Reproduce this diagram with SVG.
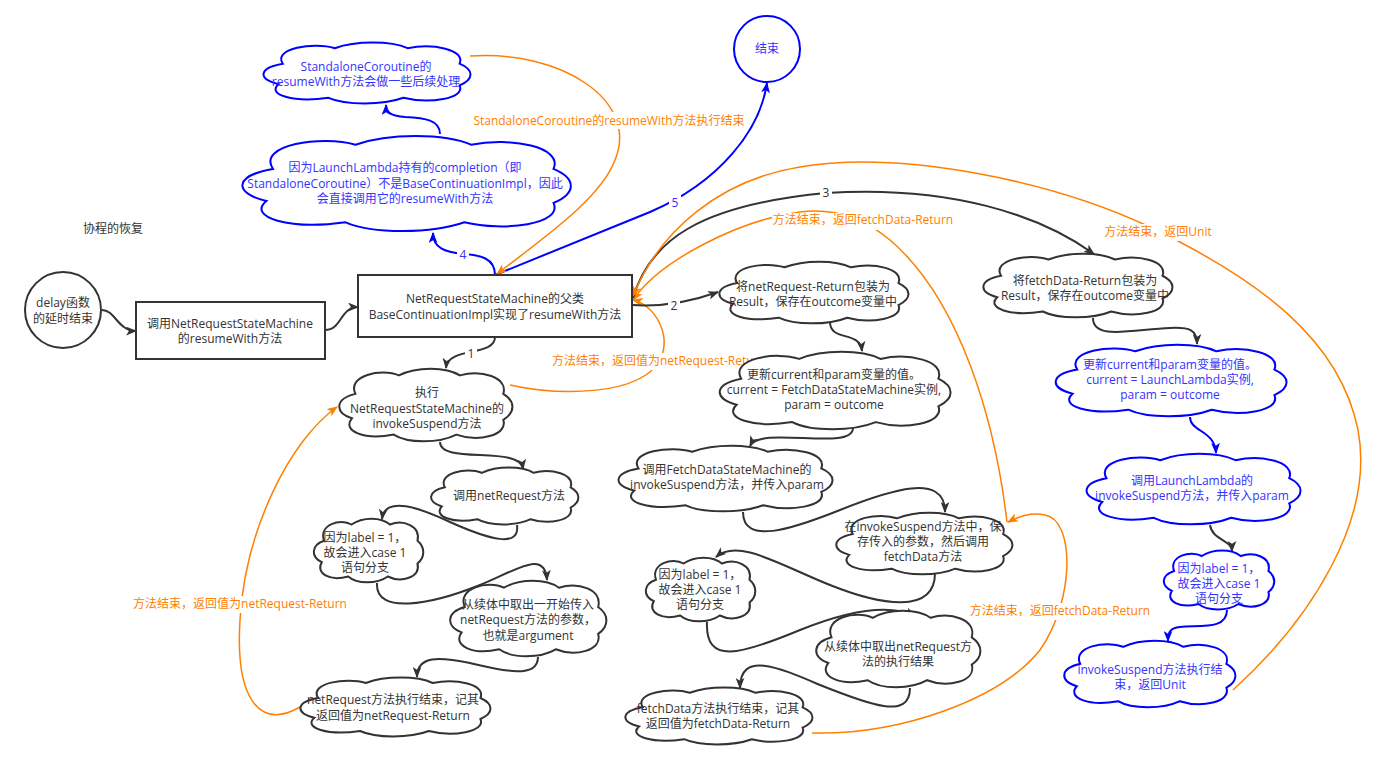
<svg xmlns="http://www.w3.org/2000/svg" width="1392" height="764" viewBox="0 0 1392 764">
<style>
text{font-family:"Open Sans","Noto Sans CJK SC",sans-serif;font-size:12px;text-anchor:middle}
.tg{fill:#333}
.tb{fill:#3333ff}
.to{fill:#ff8000}
.cg{fill:#fff;stroke:#333;stroke-width:2}
.cb{fill:#fff;stroke:#0000ff;stroke-width:2}
.eg{fill:none;stroke:#333;stroke-width:2}
.eb{fill:none;stroke:#0000ff;stroke-width:2}
.eo{fill:none;stroke:#ff8000;stroke-width:1.5}
.lb{fill:#fff}
</style>
<defs>
<path id="cloud" vector-effect="non-scaling-stroke" d="M0.1,0.35 C0.05,0.1 0.25,0 0.35,0.1 C0.45,-0.02 0.62,-0.02 0.7,0.1 C0.82,0.02 0.98,0.12 0.95,0.35 C1.02,0.45 1.02,0.6 0.95,0.7 C0.98,0.92 0.8,1 0.68,0.9 C0.58,1.02 0.4,1.02 0.32,0.9 C0.15,0.98 0.02,0.85 0.08,0.68 C-0.02,0.6 -0.02,0.42 0.1,0.35 Z"/>
<marker id="aG" viewBox="0 0 10 8" refX="9" refY="4" markerWidth="11" markerHeight="9" markerUnits="userSpaceOnUse" orient="auto"><path d="M0,0 L10,4 L0,8 L2.5,4 Z" fill="#333"/></marker>
<marker id="aB" viewBox="0 0 10 8" refX="9" refY="4" markerWidth="11" markerHeight="9" markerUnits="userSpaceOnUse" orient="auto"><path d="M0,0 L10,4 L0,8 L2.5,4 Z" fill="#0000ff"/></marker>
<marker id="aO" viewBox="0 0 10 8" refX="9" refY="4" markerWidth="11" markerHeight="9" markerUnits="userSpaceOnUse" orient="auto"><path d="M0,0 L10,4 L0,8 L2.5,4 Z" fill="#ff8000"/></marker>
</defs>
<rect width="1392" height="764" fill="#fff"/>
<text class="tg" x="113" y="233">协程的恢复</text>

<g id="connectors">
<path class="eg" d="M102,310 C115,310 118,331 136,331" marker-end="url(#aG)"/>
<path class="eg" d="M325,330 C342,330 340,307 358,307" marker-end="url(#aG)"/>
<path class="eg" d="M495,337 C495,357 448,346 446,368" marker-end="url(#aG)"/>
<path class="eo" d="M510,385 C560,396 640,396 660,360 C672,335 655,305 633,300" marker-end="url(#aO)"/>
<path class="eg" d="M632,305 C660,307 690,302 718,292" marker-end="url(#aG)"/>
<path class="eg" d="M830,322 C830,342 860,330 862,351" marker-end="url(#aG)"/>
<path class="eg" d="M853,428 C853,452 760,425 750,446" marker-end="url(#aG)"/>
<path class="eg" d="M743,512 C743,545 790,530 840,510 C890,490 945,472 945,512" marker-end="url(#aG)"/>
<path class="eg" d="M935,573 C935,615 880,605 830,585 C780,565 738,538 716,557" marker-end="url(#aG)"/>
<path class="eg" d="M707,622 C705,665 740,655 800,630 C850,610 890,604 915,616" marker-end="url(#aG)"/>
<path class="eg" d="M910,688 C910,720 870,705 820,685 C780,668 740,650 740,688" marker-end="url(#aG)"/>
<path class="eo" d="M812,733 C900,735 1000,700 1040,650 C1075,600 1075,520 1045,515 C1030,512 1018,517 1008,522" marker-end="url(#aO)"/>
<path class="eo" d="M1007,522 C995,420 960,300 890,240 C860,215 830,208 800,212 C740,220 660,260 633,300" marker-end="url(#aO)"/>
<path class="eg" d="M633,298 C650,240 700,205 826,193 C950,185 1040,215 1094,254" marker-end="url(#aG)"/>
<path class="eo" d="M1233,690 C1310,620 1375,520 1358,430 C1340,340 1260,280 1150,227 C1050,180 900,150 800,167 C720,180 660,230 633,296" marker-end="url(#aO)"/>
<path class="eb" d="M495,275 L650,212 C720,182 760,130 767,83" marker-end="url(#aB)"/>
<path class="eb" d="M495,275 C495,258 480,255 463,254 C445,252 433,248 433,233" marker-end="url(#aB)"/>
<path class="eb" d="M440,134 C440,120 425,118 405,117 C392,116 386,113 386,105" marker-end="url(#aB)"/>
<path class="eo" d="M470,56 C560,50 640,100 615,160 C600,200 540,240 497,274" marker-end="url(#aO)"/>
<path class="eo" d="M300,707 C260,730 235,700 240,620 C245,530 290,440 337,407" marker-end="url(#aO)"/>
<path class="eg" d="M440,442 C440,465 520,445 523,469" marker-end="url(#aG)"/>
<path class="eg" d="M517,525 C520,548 490,540 450,522 C420,508 385,495 382,519" marker-end="url(#aG)"/>
<path class="eg" d="M377,583 C375,615 430,605 480,585 C520,568 545,550 547,580" marker-end="url(#aG)"/>
<path class="eg" d="M538,657 C538,680 500,670 470,663 C440,657 417,655 417,677" marker-end="url(#aG)"/>
<path class="eg" d="M1093,318 C1093,340 1130,330 1170,328 C1190,327 1197,330 1197,344" marker-end="url(#aG)"/>
<path class="eb" d="M1190,417 C1190,432 1215,430 1216,453" marker-end="url(#aB)"/>
<path class="eg" d="M1210,525 C1212,540 1232,540 1232,551" marker-end="url(#aG)"/>
<path class="eb" d="M1227,610 C1227,630 1200,625 1180,627 C1170,628 1168,632 1168,641" marker-end="url(#aB)"/>

<rect class="lb" x="472" y="112" width="274" height="17"/>
<text class="to" x="609" y="125">StandaloneCoroutine的resumeWith方法执行结束</text>
<rect class="lb" x="669" y="195" width="12" height="16"/>
<text class="tb" x="675" y="207">5</text>
<rect class="lb" x="457" y="247" width="12" height="16"/>
<text class="tb" x="463" y="259">4</text>
<rect class="lb" x="465" y="346" width="12" height="16"/>
<text class="tg" x="471" y="358">1</text>
<rect class="lb" x="668" y="298" width="12" height="16"/>
<text class="tg" x="674" y="310">2</text>
<rect class="lb" x="820" y="185" width="12" height="16"/>
<text class="tg" x="826" y="197">3</text>
<rect class="lb" x="772" y="213" width="182" height="17"/>
<text class="to" x="863" y="224">方法结束，返回fetchData-Return</text>
<rect class="lb" x="1104" y="224" width="108" height="17"/>
<text class="to" x="1158" y="236">方法结束，返回Unit</text>
<rect class="lb" x="551" y="353" width="210" height="17"/>
<text class="to" x="552" y="365" style="text-anchor:start">方法结束，返回值为netRequest-Return</text>
<rect class="lb" x="132" y="596" width="216" height="17"/>
<text class="to" x="240" y="608">方法结束，返回值为netRequest-Return</text>
<rect class="lb" x="968" y="603" width="184" height="17"/>
<text class="to" x="1060" y="615">方法结束，返回fetchData-Return</text>
</g>

<g id="delay">
<circle cx="63" cy="310" r="38" fill="#fff" stroke="#333" stroke-width="2"/>
<text class="tg" x="63" y="307">delay函数</text>
<text class="tg" x="63" y="323">的延时结束</text>
</g>
<g id="box1">
<rect x="136" y="302" width="189" height="57" fill="#fff" stroke="#333" stroke-width="2"/>
<text class="tg" x="230" y="328">调用NetRequestStateMachine</text>
<text class="tg" x="230" y="343">的resumeWith方法</text>
</g>
<g id="box2">
<rect x="358" y="275" width="274" height="62" fill="#fff" stroke="#333" stroke-width="2"/>
<text class="tg" x="495" y="303">NetRequestStateMachine的父类</text>
<text class="tg" x="495" y="319">BaseContinuationImpl实现了resumeWith方法</text>
</g>
<g id="end">
<circle cx="767" cy="49" r="33" fill="#fff" stroke="#0000ff" stroke-width="2"/>
<text class="tb" x="767" y="53">结束</text>
</g>
<g id="standalone">
<use href="#cloud" class="cb" transform="translate(262,42) scale(208,62)"/>
<text class="tb" x="366" y="71">StandaloneCoroutine的</text>
<text class="tb" x="366" y="86">resumeWith方法会做一些后续处理</text>
</g>
<g id="completion">
<use href="#cloud" class="cb" transform="translate(240,135) scale(330,97)"/>
<text class="tb" x="405" y="172">因为LaunchLambda持有的completion（即</text>
<text class="tb" x="405" y="188">StandaloneCoroutine）不是BaseContinuationImpl，因此</text>
<text class="tb" x="405" y="203">会直接调用它的resumeWith方法</text>
</g>
<g id="c1">
<use href="#cloud" class="cg" transform="translate(338,368) scale(174,74)"/>
<text class="tg" x="427" y="397">执行</text>
<text class="tg" x="427" y="413">NetRequestStateMachine的</text>
<text class="tg" x="427" y="428">invokeSuspend方法</text>
</g>
<g id="c2">
<use href="#cloud" class="cg" transform="translate(430,467) scale(148,58)"/>
<text class="tg" x="509" y="500">调用netRequest方法</text>
</g>
<g id="c3">
<use href="#cloud" class="cg" transform="translate(313,518) scale(110,65)"/>
<text class="tg" x="365" y="542">因为label = 1，</text>
<text class="tg" x="365" y="557">故会进入case 1</text>
<text class="tg" x="365" y="572">语句分支</text>
</g>
<g id="c4">
<use href="#cloud" class="cg" transform="translate(449,580) scale(157,77)"/>
<text class="tg" x="528" y="609">从续体中取出一开始传入</text>
<text class="tg" x="528" y="624">netRequest方法的参数，</text>
<text class="tg" x="528" y="640">也就是argument</text>
</g>
<g id="c5">
<use href="#cloud" class="cg" transform="translate(299,677) scale(191,60)"/>
<text class="tg" x="393" y="704">netRequest方法执行结束，记其</text>
<text class="tg" x="393" y="720">返回值为netRequest-Return</text>
</g>
<g id="m1">
<use href="#cloud" class="cg" transform="translate(718,261) scale(190,63)"/>
<text class="tg" x="813" y="291">将netRequest-Return包装为</text>
<text class="tg" x="813" y="306">Result，保存在outcome变量中</text>
</g>
<g id="m2">
<use href="#cloud" class="cg" transform="translate(718,351) scale(232,79)"/>
<text class="tg" x="834" y="379">更新current和param变量的值。</text>
<text class="tg" x="834" y="394">current = FetchDataStateMachine实例,</text>
<text class="tg" x="834" y="409">param = outcome</text>
</g>
<g id="m3">
<use href="#cloud" class="cg" transform="translate(617,445) scale(215,67)"/>
<text class="tg" x="727" y="474">调用FetchDataStateMachine的</text>
<text class="tg" x="727" y="489">invokeSuspend方法，并传入param</text>
</g>
<g id="m4">
<use href="#cloud" class="cg" transform="translate(835,512) scale(177,63)"/>
<text class="tg" x="923" y="531">在invokeSuspend方法中，保</text>
<text class="tg" x="923" y="546">存传入的参数，然后调用</text>
<text class="tg" x="923" y="561">fetchData方法</text>
</g>
<g id="m5">
<use href="#cloud" class="cg" transform="translate(645,557) scale(110,65)"/>
<text class="tg" x="700" y="579">因为label = 1，</text>
<text class="tg" x="700" y="594">故会进入case 1</text>
<text class="tg" x="700" y="609">语句分支</text>
</g>
<g id="m6">
<use href="#cloud" class="cg" transform="translate(815,610) scale(165,78)"/>
<text class="tg" x="898" y="651">从续体中取出netRequest方</text>
<text class="tg" x="898" y="666">法的执行结果</text>
</g>
<g id="m7">
<use href="#cloud" class="cg" transform="translate(624,687) scale(188,58)"/>
<text class="tg" x="718" y="713">fetchData方法执行结束，记其</text>
<text class="tg" x="718" y="728">返回值为fetchData-Return</text>
</g>
<g id="r1">
<use href="#cloud" class="cg" transform="translate(982,253) scale(190,65)"/>
<text class="tg" x="1085" y="285">将fetchData-Return包装为</text>
<text class="tg" x="1085" y="300">Result，保存在outcome变量中</text>
</g>
<g id="r2">
<use href="#cloud" class="cb" transform="translate(1054,344) scale(232,73)"/>
<text class="tb" x="1170" y="369">更新current和param变量的值。</text>
<text class="tb" x="1170" y="384">current = LaunchLambda实例,</text>
<text class="tb" x="1170" y="399">param = outcome</text>
</g>
<g id="r3">
<use href="#cloud" class="cb" transform="translate(1085,453) scale(215,72)"/>
<text class="tb" x="1192" y="485">调用LaunchLambda的</text>
<text class="tb" x="1192" y="500">invokeSuspend方法，并传入param</text>
</g>
<g id="r4">
<use href="#cloud" class="cb" transform="translate(1163,550) scale(111,60)"/>
<text class="tb" x="1219" y="573">因为label = 1，</text>
<text class="tb" x="1219" y="588">故会进入case 1</text>
<text class="tb" x="1219" y="603">语句分支</text>
</g>
<g id="r5">
<use href="#cloud" class="cb" transform="translate(1063,640) scale(172,68)"/>
<text class="tb" x="1150" y="674">invokeSuspend方法执行结</text>
<text class="tb" x="1150" y="689">束，返回Unit</text>
</g>
</svg>
